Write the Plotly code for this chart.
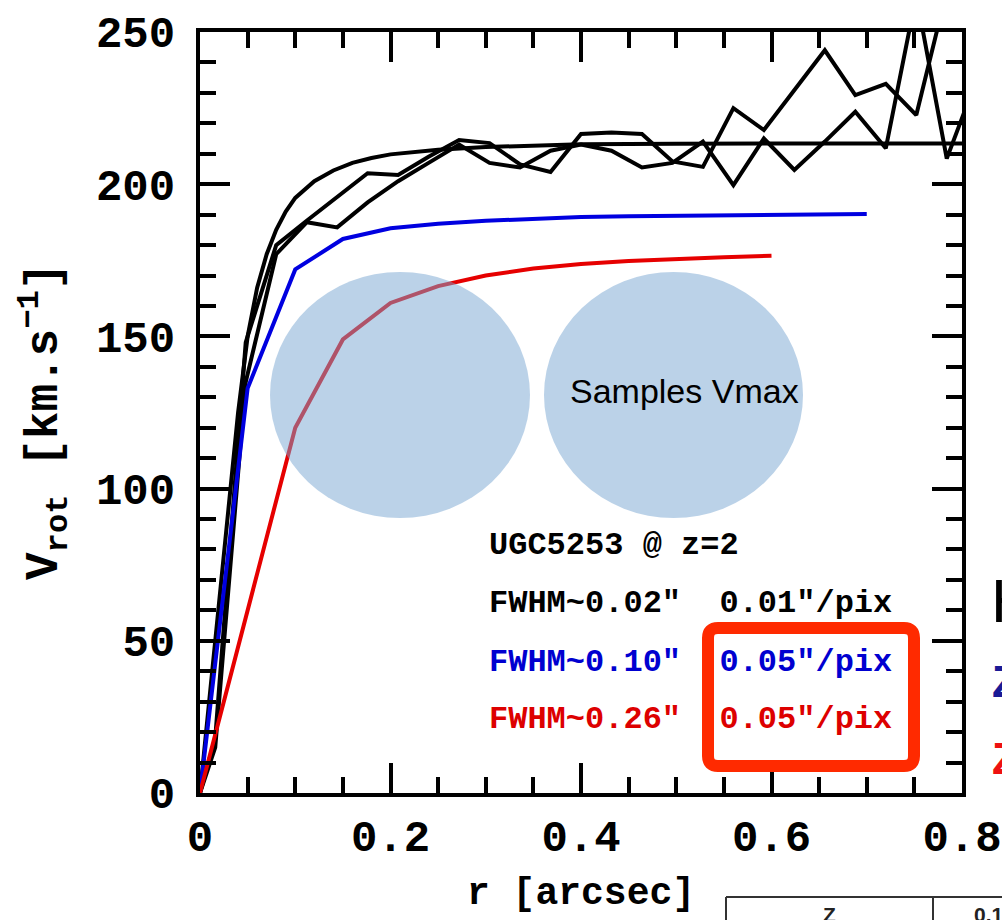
import plotly.graph_objects as go

# ---------------- data ----------------
# smooth model curve (black)
r_model = [0, 0.01, 0.02, 0.03, 0.04, 0.05, 0.06, 0.07, 0.08, 0.09, 0.10, 0.12, 0.14,
           0.16, 0.18, 0.20, 0.25, 0.30, 0.35, 0.40, 0.50, 0.60, 0.70, 0.80]
v_model = [0, 32, 64, 95, 125, 150, 166, 177, 185, 191, 195.5, 201, 204.5,
           207, 208.6, 209.8, 211.3, 212.2, 212.8, 213.1, 213.3, 213.4, 213.4, 213.4]

# noisy observed curves (black), sampled every 0.032"
r_obs = [0, 0.016, 0.048, 0.080, 0.112, 0.144, 0.176, 0.208, 0.240, 0.272, 0.304,
         0.336, 0.368, 0.400, 0.432, 0.464, 0.496, 0.528, 0.560, 0.592, 0.624,
         0.656, 0.688, 0.720, 0.752, 0.784, 0.816]
v_obs1 = [0, 18, 148, 180, 188, 196, 203.6, 203, 209, 214.5, 213.5, 206.5, 204,
          216.5, 217, 216.5, 207.5, 205.7, 225, 217.8, 231, 244, 229.3, 233, 222.7,
          263.5, 255]
v_obs2 = [0, 15, 135, 177, 187.5, 185.8, 194, 201, 207, 213, 207, 205.5, 211,
          213, 211, 205.5, 207, 214, 199.7, 215, 204.7, 214, 223.8, 211.8, 262,
          208.4, 235]

# FWHM~0.10" (blue)
r_blue = [0, 0.05, 0.10, 0.15, 0.20, 0.25, 0.30, 0.35, 0.40, 0.45, 0.50, 0.55, 0.60, 0.65, 0.70]
v_blue = [0, 133, 172, 182, 185.5, 187, 188, 188.7, 189.2, 189.5, 189.7, 189.9, 190, 190.1, 190.2]

# FWHM~0.26" (red)
r_red = [0, 0.05, 0.10, 0.15, 0.20, 0.25, 0.30, 0.35, 0.40, 0.45, 0.50, 0.55, 0.60]
v_red = [0, 60, 120, 149, 161, 166.5, 170, 172.3, 173.8, 174.8, 175.5, 176, 176.5]

x_ticks = [0, 0.2, 0.4, 0.6, 0.8]
x_ticklabels = ["0", "0.2", "0.4", "0.6", "0.8"]
y_ticks = [0, 50, 100, 150, 200, 250]
y_ticklabels = ["0", "50", "100", "150", "200", "250"]

legend_lines = ['UGC5253 @ z=2',
                'FWHM~0.02"  0.01"/pix',
                'FWHM~0.10"  0.05"/pix',
                'FWHM~0.26"  0.05"/pix']
legend_colors = ["black", "black", "#0000d0", "#dd0000"]

# ---------------- layout geometry (pixels) ----------------
W, H = 1002, 920
L, R, T, B = 200, 962, 32, 793


def px(x):
    return (x - L) / (R - L)


def py(y):
    return (B - y) / (B - T)


MONO = "Liberation Mono"

fig = go.Figure()
line_w = 4
fig.add_trace(go.Scatter(x=r_model, y=v_model, mode="lines",
                         line=dict(color="black", width=line_w), showlegend=False))
fig.add_trace(go.Scatter(x=r_obs, y=v_obs1, mode="lines",
                         line=dict(color="black", width=line_w), showlegend=False))
fig.add_trace(go.Scatter(x=r_obs, y=v_obs2, mode="lines",
                         line=dict(color="black", width=line_w), showlegend=False))
fig.add_trace(go.Scatter(x=r_blue, y=v_blue, mode="lines",
                         line=dict(color="#0000e0", width=line_w), showlegend=False))
fig.add_trace(go.Scatter(x=r_red, y=v_red, mode="lines",
                         line=dict(color="#e60000", width=line_w), showlegend=False))

axis_common = dict(
    showgrid=False, zeroline=False, showline=True, linecolor="black", linewidth=4,
    mirror="ticks", ticks="inside", tickwidth=4, ticklen=30, tickcolor="black",
    automargin=False,
    tickfont=dict(family=MONO, size=44, color="black", weight="bold"),
)

fig.update_layout(
    width=W, height=H,
    margin=dict(l=L, r=W - R, t=T, b=H - B, autoexpand=False),
    paper_bgcolor="white", plot_bgcolor="white",
    xaxis=dict(range=[0, 0.8], tickvals=x_ticks, ticktext=x_ticklabels,
               minor=dict(ticks="inside", dtick=0.05, ticklen=16, tickwidth=4,
                          tickcolor="black", showgrid=False),
               ticklabelstandoff=1, **axis_common),
    yaxis=dict(range=[0, 250], tickvals=y_ticks, ticktext=y_ticklabels,
               minor=dict(ticks="inside", dtick=10, ticklen=16, tickwidth=4,
                          tickcolor="black", showgrid=False),
               ticklabelstandoff=12, **axis_common),
)

shapes = []
# translucent circles
circ_col = "rgba(120,165,210,0.5)"
shapes.append(dict(type="circle", xref="paper", yref="paper",
                   x0=px(270), x1=px(530), y0=py(518), y1=py(272),
                   fillcolor=circ_col, line=dict(width=0), layer="above"))
shapes.append(dict(type="circle", xref="paper", yref="paper",
                   x0=px(544), x1=px(803), y0=py(518), y1=py(272),
                   fillcolor=circ_col, line=dict(width=0), layer="above"))

# red rounded box
bx0, bx1, by0, by1, rr = 708, 914, 628, 766, 10
path = (f"M {px(bx0+rr)},{py(by0)} L {px(bx1-rr)},{py(by0)} "
        f"Q {px(bx1)},{py(by0)} {px(bx1)},{py(by0+rr)} L {px(bx1)},{py(by1-rr)} "
        f"Q {px(bx1)},{py(by1)} {px(bx1-rr)},{py(by1)} L {px(bx0+rr)},{py(by1)} "
        f"Q {px(bx0)},{py(by1)} {px(bx0)},{py(by1-rr)} L {px(bx0)},{py(by0+rr)} "
        f"Q {px(bx0)},{py(by0)} {px(bx0+rr)},{py(by0)} Z")
shapes.append(dict(type="path", xref="paper", yref="paper", path=path,
                   line=dict(color="#ff2a00", width=12), layer="above"))

# partial table at bottom right
tcol = "#333333"
shapes.append(dict(type="line", xref="paper", yref="paper",
                   x0=px(726), x1=px(1010), y0=py(897), y1=py(897),
                   line=dict(color=tcol, width=2), layer="above"))
for xv in (726, 933):
    shapes.append(dict(type="line", xref="paper", yref="paper",
                       x0=px(xv), x1=px(xv), y0=py(897), y1=py(930),
                       line=dict(color=tcol, width=2), layer="above"))

annotations = []
# axis titles
annotations.append(dict(xref="paper", yref="paper", x=px(581), y=py(893),
                        text="r [arcsec]", showarrow=False,
                        font=dict(family=MONO, size=38, color="black", weight="bold"),
                        xanchor="center", yanchor="middle"))
annotations.append(dict(xref="paper", yref="paper", x=px(44), y=py(422),
                        text="V<sub>rot</sub> [km.s<sup>−1</sup>]", showarrow=False,
                        textangle=-90,
                        font=dict(family=MONO, size=46, color="black", weight="bold"),
                        xanchor="center", yanchor="middle"))
# legend-like text block
ys = [545, 603, 662, 719]
for txt, col, yv in zip(legend_lines, legend_colors, ys):
    annotations.append(dict(xref="paper", yref="paper", x=px(487), y=py(yv),
                            text=txt, showarrow=False,
                            font=dict(family=MONO, size=32, color=col, weight="bold"),
                            xanchor="left", yanchor="middle"))
# circle label
annotations.append(dict(xref="paper", yref="paper", x=px(684), y=py(391),
                        text="Samples Vmax", showarrow=False,
                        font=dict(family="Liberation Sans", size=34, color="black"),
                        xanchor="center", yanchor="middle"))
# cropped texts at right edge
annotations.append(dict(xref="paper", yref="paper", x=px(989), y=py(600),
                        text="H", showarrow=False,
                        font=dict(family="Liberation Sans", size=62, color="black"),
                        xanchor="left", yanchor="middle"))
annotations.append(dict(xref="paper", yref="paper", x=px(990), y=py(681),
                        text="Z", showarrow=False,
                        font=dict(family="Liberation Sans", size=44, color="#1a1a96", weight="bold"),
                        xanchor="left", yanchor="middle"))
annotations.append(dict(xref="paper", yref="paper", x=px(990), y=py(758),
                        text="Z", showarrow=False,
                        font=dict(family="Liberation Sans", size=44, color="#ee1111", weight="bold"),
                        xanchor="left", yanchor="middle"))
# table texts
annotations.append(dict(xref="paper", yref="paper", x=px(829), y=py(915),
                        text="Z", showarrow=False,
                        font=dict(family="Liberation Sans", size=21, color="#222222", weight="bold"),
                        xanchor="center", yanchor="middle"))
annotations.append(dict(xref="paper", yref="paper", x=px(972), y=py(915),
                        text="0.1", showarrow=False,
                        font=dict(family="Liberation Sans", size=21, color="#222222", weight="bold"),
                        xanchor="left", yanchor="middle"))

fig.update_layout(shapes=shapes, annotations=annotations)
fig.write_html("out.html")
